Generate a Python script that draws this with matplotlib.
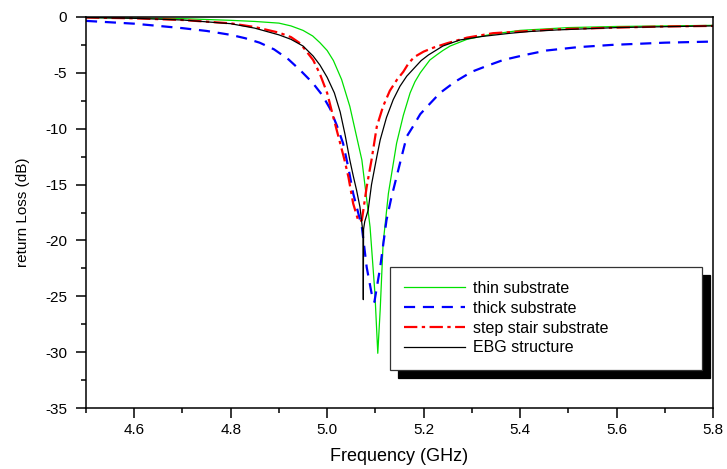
import matplotlib
matplotlib.use('Agg')
import matplotlib.pyplot as plt
from matplotlib.ticker import MultipleLocator

plt.rcParams['font.family'] = ['Liberation Sans', 'DejaVu Sans']
plt.rcParams['axes.unicode_minus'] = False

#%% data (frequency in GHz, return loss in dB)
f_thin = [4.5, 4.6, 4.7, 4.8, 4.85, 4.9, 4.925, 4.95, 4.97, 4.985, 5.0, 5.013, 5.03,
          5.047, 5.06, 5.072, 5.089, 5.099, 5.105, 5.110, 5.116, 5.127, 5.144, 5.158,
          5.172, 5.182, 5.193, 5.213, 5.227, 5.24, 5.255, 5.29, 5.34, 5.4, 5.5, 5.6,
          5.7, 5.8]
s_thin = [-0.05, -0.1, -0.15, -0.3, -0.4, -0.55, -0.8, -1.2, -1.7, -2.3, -3.0, -3.9, -5.6,
          -8.0, -10.5, -12.8, -18.8, -24.7, -30.1, -26.2, -20.3, -15.8, -11.3, -8.8,
          -6.8, -5.8, -5.0, -3.85, -3.4, -3.0, -2.6, -2.0, -1.55, -1.2, -0.95, -0.85,
          -0.8, -0.75]

f_thick = [4.5, 4.6, 4.65, 4.7, 4.75, 4.8, 4.83, 4.86, 4.89, 4.92, 4.945, 4.97, 4.99,
           5.006, 5.02, 5.033, 5.044, 5.054, 5.063, 5.072, 5.082, 5.092, 5.098, 5.110,
           5.123, 5.133, 5.144, 5.155, 5.165, 5.178, 5.193, 5.21, 5.234, 5.265, 5.30,
           5.33, 5.365, 5.41, 5.455, 5.52, 5.59, 5.7, 5.8]
s_thick = [-0.35, -0.6, -0.8, -1.0, -1.25, -1.6, -1.9, -2.3, -2.9, -3.8, -4.8, -5.9, -7.0,
           -8.2, -9.7, -11.3, -13.5, -15.8, -17.3, -18.8, -22.4, -24.7, -25.5, -22.4,
           -18.2, -16.2, -14.3, -12.4, -10.7, -9.8, -8.7, -7.9, -6.8, -5.8, -4.9,
           -4.4, -3.85, -3.4, -3.0, -2.7, -2.5, -2.3, -2.2]

f_step = [4.5, 4.6, 4.7, 4.8, 4.85, 4.9, 4.925, 4.944, 4.971, 4.985, 5.0, 5.013, 5.027,
          5.036, 5.044, 5.054, 5.065, 5.072, 5.082, 5.092, 5.103, 5.116, 5.13, 5.145,
          5.158, 5.168, 5.18, 5.2, 5.22, 5.248, 5.29, 5.344, 5.4, 5.476, 5.6, 5.7, 5.8]
s_step = [-0.05, -0.12, -0.27, -0.57, -0.9, -1.4, -1.8, -2.36, -3.85, -5.1, -6.8, -9.0, -11.3,
          -12.8, -14.3, -16.7, -18.3, -18.2, -15.2, -12.8, -9.8, -8.0, -6.6, -5.6,
          -4.9, -4.2, -3.6, -3.1, -2.75, -2.36, -1.85, -1.45, -1.3, -1.1, -0.95,
          -0.85, -0.8]

f_ebg = [4.5, 4.6, 4.7, 4.8, 4.85, 4.9, 4.925, 4.95, 4.971, 4.985, 5.0, 5.015, 5.027,
         5.037, 5.047, 5.054, 5.061, 5.068, 5.0745, 5.075, 5.0755, 5.078, 5.085, 5.092,
         5.103, 5.11, 5.123, 5.137, 5.151, 5.165, 5.18, 5.195, 5.21, 5.24, 5.275,
         5.32, 5.379, 5.42, 5.476, 5.6, 5.7, 5.8]
s_ebg = [-0.05, -0.12, -0.27, -0.6, -1.0, -1.6, -2.0, -2.6, -3.5, -4.3, -5.4, -6.8, -8.5,
         -10.5, -12.8, -14.2, -15.5, -17.0, -19.4, -25.3, -19.0, -18.3, -17.3, -15.0,
         -12.5, -11.0, -9.0, -7.4, -6.2, -5.3, -4.6, -3.9, -3.4, -2.6, -2.06,
         -1.75, -1.46, -1.3, -1.16, -0.95, -0.87, -0.8]

labels = ['thin substrate', 'thick substrate', 'step stair substrate', 'EBG structure']

#%% plot
fig = plt.figure(figsize=(7.27, 4.69), dpi=100)
ax = fig.add_axes([0.1183, 0.130, 0.8624, 0.8338])

ax.plot(f_thin, s_thin, color='#00e000', lw=0.9, label=labels[0])
ax.plot(f_thick, s_thick, color='#0000ff', lw=1.6, linestyle=(0, (5, 3.5)), label=labels[1])
ax.plot(f_step, s_step, color='#ff0000', lw=1.6, linestyle=(0, (6, 2, 1.5, 2)), label=labels[2])
ax.plot(f_ebg, s_ebg, color='black', lw=0.9, label=labels[3])

ax.set_xlim(4.5, 5.8)
ax.set_ylim(-35, 0)
ax.xaxis.set_minor_locator(MultipleLocator(0.1))
ax.yaxis.set_major_locator(MultipleLocator(5))
ax.yaxis.set_minor_locator(MultipleLocator(2.5))
ax.set_xticks([4.6, 4.8, 5.0, 5.2, 5.4, 5.6, 5.8])
ax.set_xticklabels(['4.6', '4.8', '5.0', '5.2', '5.4', '5.6', '5.8'])
ax.tick_params(which='major', direction='out', length=7, width=1.1, labelsize=11)
ax.tick_params(which='minor', direction='out', length=3.5, width=1.1)
ax.tick_params(axis='x', which='major', pad=4)
ax.tick_params(axis='y', which='major', pad=6.5)
for sp in ax.spines.values():
    sp.set_linewidth(1.1)

ax.set_xlabel('Frequency (GHz)', fontsize=13, labelpad=8)
ax.set_ylabel('return Loss (dB)', fontsize=11, labelpad=11)

leg = ax.legend(loc='upper left', bbox_to_anchor=(0.485, 0.0913, 0.497, 0.2701),
                mode='expand', borderaxespad=0, fancybox=False, fontsize=11.5,
                handlelength=3.8, handletextpad=0.5, labelspacing=0.3, borderpad=0.9,
                framealpha=1, edgecolor='#333333',
                shadow={'ox': 5.8, 'oy': -5.8, 'color': 'black', 'alpha': 1})
leg.get_frame().set_linewidth(0.9)

fig.savefig('out.png', dpi=100)
